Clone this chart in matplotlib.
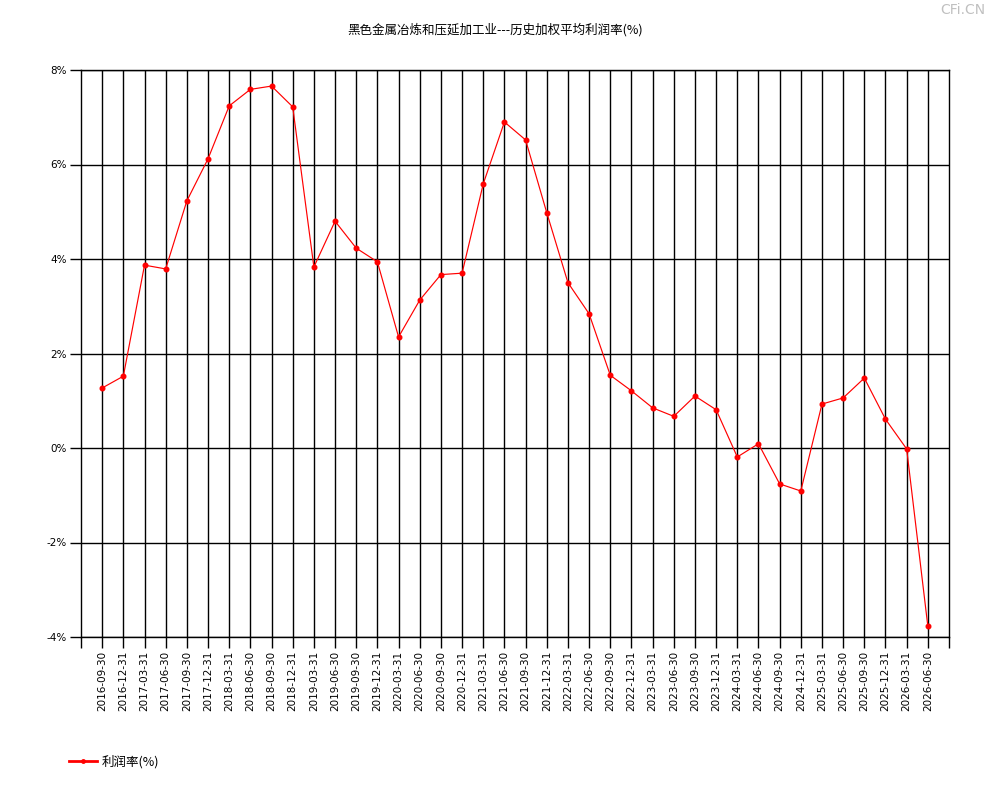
import matplotlib
matplotlib.use("Agg")
import matplotlib.pyplot as plt
from matplotlib.lines import Line2D

plt.rcParams['font.family'] = ['Noto Sans CJK SC', 'DejaVu Sans']

dates = [
    "2016-09-30", "2016-12-31",
    "2017-03-31", "2017-06-30", "2017-09-30", "2017-12-31",
    "2018-03-31", "2018-06-30", "2018-09-30", "2018-12-31",
    "2019-03-31", "2019-06-30", "2019-09-30", "2019-12-31",
    "2020-03-31", "2020-06-30", "2020-09-30", "2020-12-31",
    "2021-03-31", "2021-06-30", "2021-09-30", "2021-12-31",
    "2022-03-31", "2022-06-30", "2022-09-30", "2022-12-31",
    "2023-03-31", "2023-06-30", "2023-09-30", "2023-12-31",
    "2024-03-31", "2024-06-30", "2024-09-30", "2024-12-31",
    "2025-03-31", "2025-06-30", "2025-09-30", "2025-12-31",
    "2026-03-31", "2026-06-30",
]
profit_rate = [
    1.27, 1.52,
    3.87, 3.79, 5.23, 6.12,
    7.24, 7.59, 7.66, 7.22,
    3.83, 4.80, 4.23, 3.94,
    2.35, 3.13, 3.67, 3.70,
    5.59, 6.90, 6.52, 4.98,
    3.50, 2.84, 1.54, 1.21,
    0.85, 0.67, 1.10, 0.81,
    -0.19, 0.09, -0.76, -0.91,
    0.93, 1.06, 1.48, 0.61,
    -0.02, -3.77,
]
y_ticks = [-4, -2, 0, 2, 4, 6, 8]
y_tick_labels = ["-4%", "-2%", "0%", "2%", "4%", "6%", "8%"]
title = "黑色金属冶炼和压延加工业---历史加权平均利润率(%)"
legend_label = "利润率(%)"

W, H = 990, 800
fig = plt.figure(figsize=(W / 100, H / 100), dpi=100)
left, right, top, bottom = 81, 949, 70, 637
ax = fig.add_axes([left / W, 1 - bottom / H, (right - left) / W, (bottom - top) / H])

n = len(dates)
xs = list(range(n))
ax.set_xlim(-1, n)
ax.set_ylim(-4, 8)

# grid
for x in xs:
    ax.axvline(x, color='black', lw=1.0, zorder=1)
for y in y_ticks:
    ax.axhline(y, color='black', lw=1.0, zorder=1)

ax.plot(xs, profit_rate, color='#ff0000', lw=0.85, marker='o', markersize=3.3,
        markerfacecolor='#ff0000', markeredgecolor='#ff0000', zorder=3)

for sp in ax.spines.values():
    sp.set_color('black')
    sp.set_linewidth(1.0)

ax.set_xticks(xs)
ax.set_xticklabels(dates, rotation=90, fontsize=7.5, family=['DejaVu Sans'])
ax.set_xticks([-1, n], minor=True)
ax.set_yticks(y_ticks)
ax.set_yticklabels(y_tick_labels, fontsize=7.5, family=['DejaVu Sans'])
ax.tick_params(axis='x', which='both', length=8, width=1, pad=2, color='black')
ax.tick_params(axis='y', length=8, width=1, pad=2, color='black')

fig.text(495 / W, 1 - 30 / H, title, ha='center', va='center', fontsize=9)
fig.text(985 / W, 1 - 10 / H, "CFi.CN", ha='right', va='center', fontsize=10,
         color='#c0c0c0', family=['DejaVu Sans'])

# legend
handle = Line2D([0], [0], color='#ff0000', lw=2, marker='o', markersize=2.5,
                markerfacecolor='#ff0000', markeredgecolor='#ff0000')
leg = fig.legend([handle], [legend_label], loc='center left',
                 bbox_to_anchor=(58 / W, 1 - 762 / H), frameon=False,
                 fontsize=9, handlelength=2.2, handletextpad=0.4)

fig.savefig("out.png", dpi=100)
